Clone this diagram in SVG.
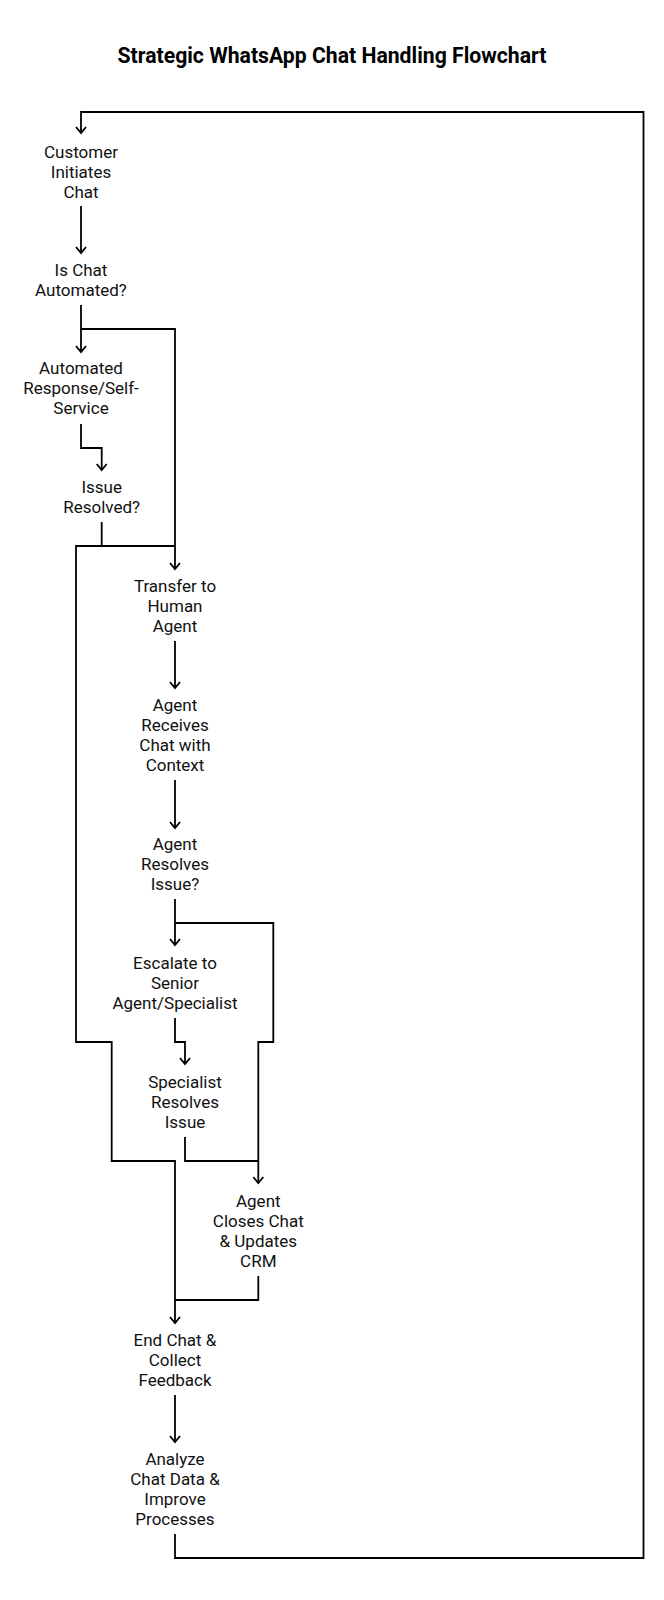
<svg xmlns="http://www.w3.org/2000/svg" width="664" height="1600" viewBox="0 0 664 1600">
<style>
.t{font-family:Roboto,"Liberation Sans",sans-serif;font-size:17px;fill:#111;text-anchor:middle}
.title{font-family:Roboto,"Liberation Sans",sans-serif;font-size:21.2px;font-weight:bold;fill:#000;text-anchor:middle}
.c{fill:none;stroke:#000;stroke-width:1.8}
.a{marker-end:url(#arr)}
</style>
<defs>
<marker id="arr" markerUnits="userSpaceOnUse" markerWidth="14" markerHeight="14" refX="7" refY="7" orient="auto" viewBox="0 0 14 14">
<path d="M1,2 L7,7 L1,12" fill="none" stroke="#000" stroke-width="1.8"/>
</marker>
</defs>
<rect width="664" height="1600" fill="#fff"/>
<text class="title" x="332" y="63">Strategic WhatsApp Chat Handling Flowchart</text>
<g id="connectors">
<path class="c a" d="M175,1534 V1558 H643.5 V112 H81 V133"/>
<path class="c a" d="M81,206 V253"/>
<path class="c a" d="M81,305 V352"/>
<path class="c a" d="M81,329 H175 V569"/>
<path class="c a" d="M81,424 V448 H101.7 V470"/>
<path class="c" d="M101.7,522 V546 H175"/>
<path class="c a" d="M101.7,546 H76 V1042 H111.7 V1161 H175 V1323"/>
<path class="c a" d="M175,641 V688"/>
<path class="c a" d="M175,780 V828"/>
<path class="c a" d="M175,899 V945"/>
<path class="c a" d="M175,923 H273.3 V1042 H258.3 V1183"/>
<path class="c a" d="M175,1018 V1042 H185 V1064"/>
<path class="c" d="M185,1137 V1161 H258.3"/>
<path class="c" d="M258.3,1276 V1300 H175"/>
<path class="c a" d="M175,1395 V1442"/>
</g>
<g id="n1"><text class="t" x="81" y="158">Customer</text><text class="t" x="81" y="178">Initiates</text><text class="t" x="81" y="198">Chat</text></g>
<g id="n2"><text class="t" x="81" y="276">Is Chat</text><text class="t" x="81" y="296">Automated?</text></g>
<g id="n3"><text class="t" x="81" y="374">Automated</text><text class="t" x="81" y="394">Response/Self-</text><text class="t" x="81" y="414">Service</text></g>
<g id="n4"><text class="t" x="101.7" y="493">Issue</text><text class="t" x="101.7" y="513">Resolved?</text></g>
<g id="n5"><text class="t" x="175" y="592">Transfer to</text><text class="t" x="175" y="612">Human</text><text class="t" x="175" y="632">Agent</text></g>
<g id="n6"><text class="t" x="175" y="711">Agent</text><text class="t" x="175" y="731">Receives</text><text class="t" x="175" y="751">Chat with</text><text class="t" x="175" y="771">Context</text></g>
<g id="n7"><text class="t" x="175" y="850">Agent</text><text class="t" x="175" y="870">Resolves</text><text class="t" x="175" y="890">Issue?</text></g>
<g id="n8"><text class="t" x="175" y="969">Escalate to</text><text class="t" x="175" y="989">Senior</text><text class="t" x="175" y="1009">Agent/Specialist</text></g>
<g id="n9"><text class="t" x="185" y="1088">Specialist</text><text class="t" x="185" y="1108">Resolves</text><text class="t" x="185" y="1128">Issue</text></g>
<g id="n10"><text class="t" x="258.3" y="1207">Agent</text><text class="t" x="258.3" y="1227">Closes Chat</text><text class="t" x="258.3" y="1247">&amp; Updates</text><text class="t" x="258.3" y="1267">CRM</text></g>
<g id="n11"><text class="t" x="175" y="1346">End Chat &amp;</text><text class="t" x="175" y="1366">Collect</text><text class="t" x="175" y="1386">Feedback</text></g>
<g id="n12"><text class="t" x="175" y="1465">Analyze</text><text class="t" x="175" y="1485">Chat Data &amp;</text><text class="t" x="175" y="1505">Improve</text><text class="t" x="175" y="1525">Processes</text></g>
</svg>
